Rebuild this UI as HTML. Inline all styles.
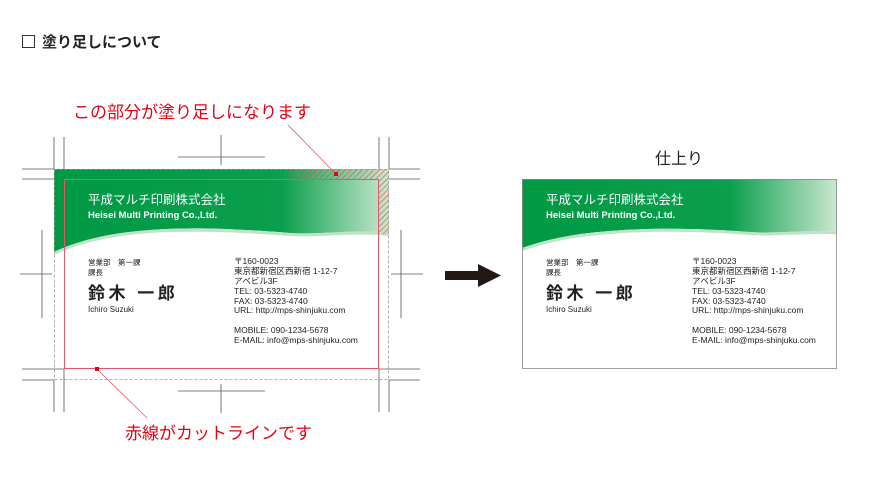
<!DOCTYPE html>
<html><head><meta charset="utf-8"><style>
html,body{margin:0;padding:0;background:#fff;}
svg{display:block;font-family:"Liberation Sans","Noto Sans CJK JP",sans-serif;}
</style></head><body>
<svg width="875" height="490" viewBox="0 0 875 490" xmlns="http://www.w3.org/2000/svg">
<defs>
<linearGradient id="g1" x1="54" x2="389" y1="0" y2="0" gradientUnits="userSpaceOnUse">
<stop offset="0" stop-color="#009944"/><stop offset="0.68" stop-color="#0a9f4d"/><stop offset="1" stop-color="#cbe8cf"/></linearGradient>
<linearGradient id="g2" x1="522" x2="837" y1="0" y2="0" gradientUnits="userSpaceOnUse">
<stop offset="0" stop-color="#009944"/><stop offset="0.66" stop-color="#0a9f4d"/><stop offset="1" stop-color="#cbe8cf"/></linearGradient>
<pattern id="hatch" width="4" height="4" patternUnits="userSpaceOnUse" patternTransform="rotate(45)">
<rect width="4" height="4" fill="none"/><line x1="0" y1="0" x2="0" y2="4" stroke="#e04848" stroke-width="1.2"/></pattern>
<clipPath id="c2"><rect x="522" y="179" width="315" height="190"/></clipPath>
</defs>

<rect x="22.5" y="35.5" width="12" height="12" fill="none" stroke="#333" stroke-width="1"/>
<text x="42" y="47" font-size="15" font-weight="bold" fill="#222">塗り足しについて</text>

<text x="73" y="118" font-size="17" fill="#e60012">この部分が塗り足しになります</text>
<text x="125" y="439" font-size="17" fill="#e60012">赤線がカットラインです</text>
<text x="655" y="164" font-size="16" fill="#222">仕上り</text>

<g stroke="#555" stroke-width="0.8" fill="none">
<path d="M54 137V169H22 M64 137V179H22"/>
<path d="M389 137V169H420 M379 137V179H420"/>
<path d="M54 412V380H22 M64 412V369H22"/>
<path d="M389 412V380H420 M379 412V369H420"/>
<path d="M221 135V165 M178 157H265"/>
<path d="M221 384V413 M178 391H265"/>
<path d="M42 230V318 M20 274H52"/>
<path d="M401 230V318 M391 274H423"/>
</g>

<path d="M54 169H389V233C350 229 320 235 290 233C250 230 200 226 150 230C110 233 80 240 54 252Z" fill="url(#g1)"/>
<path d="M54 252C80 240 110 233 150 230C200 226 250 230 290 233C320 235 350 229 389 233V236C350 232 320 238 290 236C250 233 200 230 150 233C110 236 80 243 54 255Z" fill="#bfe3c8"/>
<rect x="288" y="169" width="101" height="10" fill="url(#hatch)"/>
<rect x="379" y="179" width="10" height="55" fill="url(#hatch)"/>
<rect x="54.5" y="169.5" width="334" height="210" fill="none" stroke="#999" stroke-width="0.8" stroke-dasharray="3,2"/>
<rect x="64.5" y="179.5" width="314" height="189" fill="none" stroke="#e8556a" stroke-width="1"/>

<g fill="#fff">
<text x="88" y="204" font-size="12.5">平成マルチ印刷株式会社</text>
<text x="88" y="218" font-size="9.5" font-weight="bold">Heisei Multi Printing Co.,Ltd.</text>
</g>
<g fill="#222">
<text x="88" y="265" font-size="7.5">営業部　第一課</text>
<text x="88" y="275" font-size="7.5">課長</text>
<text x="88" y="299" font-size="17" font-weight="bold" letter-spacing="3.5">鈴木 一郎</text>
<text x="88" y="312" font-size="8">Ichiro Suzuki</text>
<g font-size="8.5">
<text x="234" y="264">〒160-0023</text>
<text x="234" y="274">東京都新宿区西新宿 1-12-7</text>
<text x="234" y="284">アベビル3F</text>
<text x="234" y="294">TEL: 03-5323-4740</text>
<text x="234" y="304">FAX: 03-5323-4740</text>
<text x="234" y="313">URL: http://mps-shinjuku.com</text>
<text x="234" y="333">MOBILE: 090-1234-5678</text>
<text x="234" y="343">E-MAIL: info@mps-shinjuku.com</text>
</g></g>

<g stroke="#e8556a" stroke-width="0.8"><line x1="288" y1="125" x2="336" y2="174"/><line x1="97" y1="369" x2="147" y2="418"/></g>
<rect x="334" y="172" width="4" height="4" fill="#e60012"/>
<rect x="95" y="367" width="4" height="4" fill="#e60012"/>

<path d="M445 271H478V264L501 275.5L478 287V280H445Z" fill="#231815"/>

<g clip-path="url(#c2)">
<path d="M512 179H847V232C810 229 780 234 750 232C710 229 660 227 610 231C570 234 545 240 522 248Z" fill="url(#g2)"/>
<path d="M522 248C545 240 570 234 610 231C660 227 710 229 750 232C780 234 810 229 847 232V235C810 232 780 237 750 235C710 232 660 230 610 234C570 237 545 243 522 251Z" fill="#bfe3c8"/>
</g>
<rect x="522.5" y="179.5" width="314" height="189" fill="none" stroke="#888" stroke-width="0.8"/>
<g fill="#fff">
<text x="546" y="204" font-size="12.5">平成マルチ印刷株式会社</text>
<text x="546" y="218" font-size="9.5" font-weight="bold">Heisei Multi Printing Co.,Ltd.</text>
</g>
<g fill="#222">
<text x="546" y="265" font-size="7.5">営業部　第一課</text>
<text x="546" y="275" font-size="7.5">課長</text>
<text x="546" y="299" font-size="17" font-weight="bold" letter-spacing="3.5">鈴木 一郎</text>
<text x="546" y="312" font-size="8">Ichiro Suzuki</text>
<g font-size="8.5">
<text x="692" y="264">〒160-0023</text>
<text x="692" y="274">東京都新宿区西新宿 1-12-7</text>
<text x="692" y="284">アベビル3F</text>
<text x="692" y="294">TEL: 03-5323-4740</text>
<text x="692" y="304">FAX: 03-5323-4740</text>
<text x="692" y="313">URL: http://mps-shinjuku.com</text>
<text x="692" y="333">MOBILE: 090-1234-5678</text>
<text x="692" y="343">E-MAIL: info@mps-shinjuku.com</text>
</g></g>
</svg>
</body></html>
